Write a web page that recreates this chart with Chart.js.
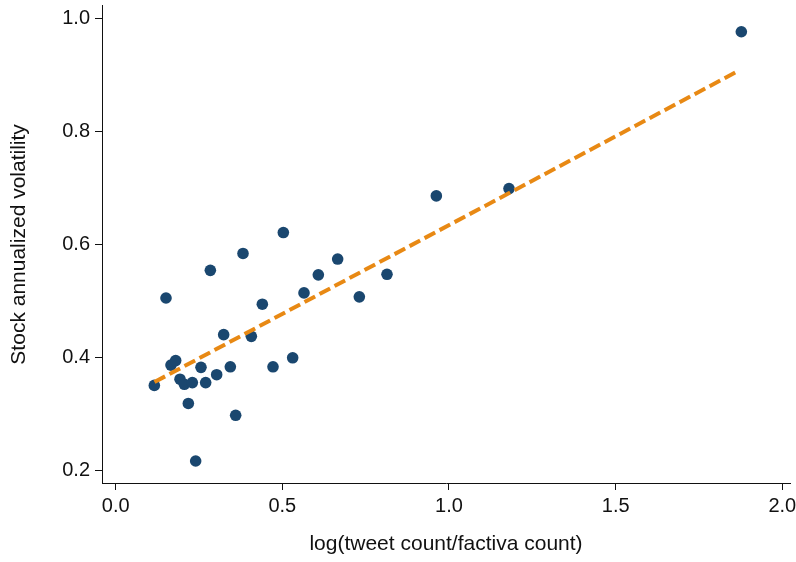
<!DOCTYPE html>
<html>
<head>
<meta charset="utf-8">
<script src="https://cdn.jsdelivr.net/npm/chart.js@4/dist/chart.umd.min.js"></script>
<style>
  html, body { margin: 0; padding: 0; background: #fff; }
  #wrap { width: 796px; height: 562px; }
</style>
</head>
<body>
<div id="wrap"><canvas id="chart" width="796" height="562"></canvas></div>
<script>
// log(tweet count / factiva count) per stock
const logRatio = [0.116, 0.151, 0.166, 0.180, 0.193, 0.206, 0.218, 0.230, 0.240, 0.256,
  0.270, 0.284, 0.303, 0.324, 0.344, 0.360, 0.382, 0.407, 0.440, 0.472,
  0.503, 0.531, 0.565, 0.608, 0.666, 0.731, 0.814, 0.962, 1.180, 1.877];
// stock annualized volatility
const volatility = [0.350, 0.505, 0.386, 0.394, 0.361, 0.352, 0.318, 0.355, 0.216, 0.382,
  0.355, 0.554, 0.369, 0.440, 0.383, 0.297, 0.584, 0.437, 0.494, 0.383,
  0.621, 0.399, 0.514, 0.546, 0.574, 0.507, 0.547, 0.686, 0.699, 0.977];

// fitted line end points
const fitX = [0.1165, 1.863];
const fitY = [0.356, 0.906];

const xTicks = [0.0, 0.5, 1.0, 1.5, 2.0];
const yTicks = [0.2, 0.4, 0.6, 0.8, 1.0];

const textColor = '#111';
const fontFamily = '"Liberation Sans", Arial, sans-serif';

const points = logRatio.map((x, i) => ({ x: x, y: volatility[i] }));
const fitLine = fitX.map((x, i) => ({ x: x, y: fitY[i] }));

new Chart(document.getElementById('chart'), {
  type: 'scatter',
  data: {
    datasets: [
      {
        label: 'Fitted values',
        data: fitLine,
        showLine: true,
        borderColor: 'rgb(232,137,20)',
        borderWidth: 4,
        borderDash: [12, 5],
        pointRadius: 0,
        order: 0
      },
      {
        label: 'Stock annualized volatility',
        data: points,
        backgroundColor: '#1a476f',
        borderColor: '#1a476f',
        borderWidth: 0,
        pointRadius: 5.8,
        order: 1
      }
    ]
  },
  options: {
    responsive: false,
    animation: false,
    layout: { padding: { top: 3, right: 6, left: 0, bottom: 0 } },
    plugins: { legend: { display: false }, tooltip: { enabled: false } },
    scales: {
      x: {
        type: 'linear',
        min: -0.041,
        max: 2.023,
        afterBuildTicks: s => { s.ticks = xTicks.map(v => ({ value: v })); },
        afterFit: s => { s.height = 79; s.paddingLeft = 0; s.paddingRight = 0; },
        grid: { display: true, drawOnChartArea: false, drawTicks: true, tickLength: 7, color: textColor },
        border: { display: true, color: textColor, width: 1 },
        ticks: {
          color: textColor,
          padding: 4,
          maxRotation: 0,
          font: { family: fontFamily, size: 20 },
          callback: v => Number(v).toFixed(1)
        },
        title: {
          display: true,
          text: 'log(tweet count/factiva count)',
          color: textColor,
          font: { family: fontFamily, size: 21 },
          padding: { top: 0, bottom: 5 }
        }
      },
      y: {
        type: 'linear',
        min: 0.177,
        max: 1.023,
        afterBuildTicks: s => { s.ticks = yTicks.map(v => ({ value: v })); },
        afterFit: s => { s.width = 102; s.paddingTop = 0; s.paddingBottom = 0; },
        grid: { display: true, drawOnChartArea: false, drawTicks: true, tickLength: 7, color: textColor },
        border: { display: true, color: textColor, width: 1 },
        ticks: {
          color: textColor,
          padding: 5,
          font: { family: fontFamily, size: 20 },
          callback: v => Number(v).toFixed(1)
        },
        title: {
          display: true,
          text: 'Stock annualized volatility',
          color: textColor,
          font: { family: fontFamily, size: 21 },
          padding: { top: 7, bottom: 0 }
        }
      }
    }
  }
});
</script>
</body>
</html>
